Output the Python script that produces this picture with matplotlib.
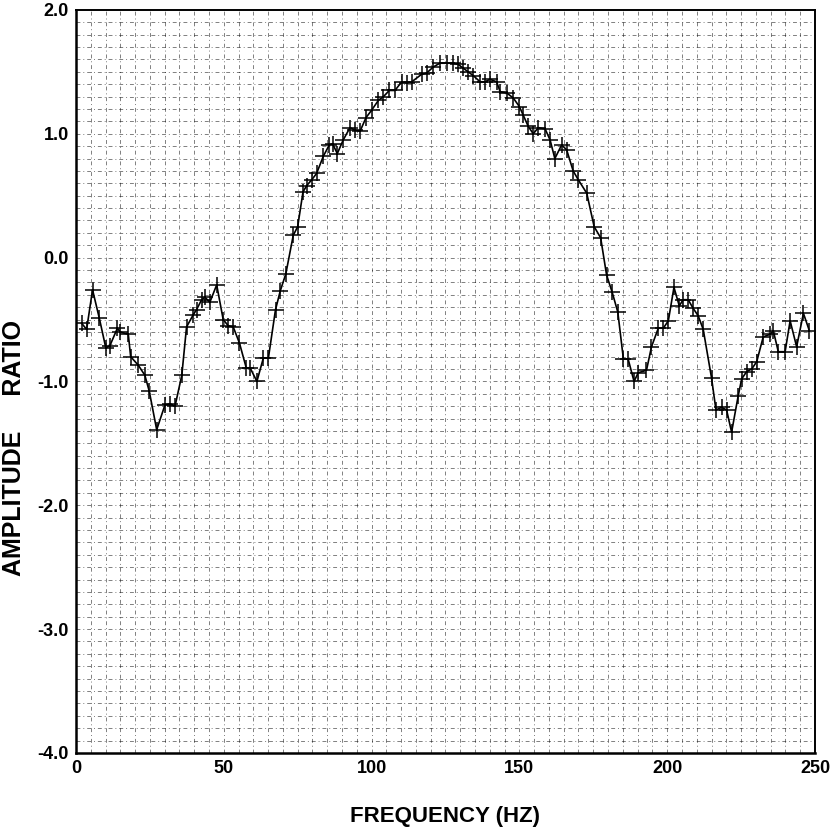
import numpy as np
import matplotlib
matplotlib.use("Agg")
import matplotlib.pyplot as plt

# values
freq = [1.9, 3.6, 5.6, 7.9, 10.1, 11.5, 14.0, 14.9, 17.7, 18.5, 21.1, 23.3, 24.8,
        27.3, 30.1, 31.8, 33.5, 35.8, 37.4, 39.7, 40.8, 42.5, 43.6, 45.3, 47.6,
        49.8, 51.5, 53.2, 55.3, 57.6, 58.9, 61.2, 63.4, 65.1, 67.5, 69.1, 71.0,
        73.5, 75.0, 76.8, 78.0, 79.8, 81.4, 83.7, 85.7, 86.8, 88.4, 90.4, 92.7,
        94.4, 96.1, 98.1, 100.0, 102.3, 104.0, 106.0, 107.9, 110.2, 111.9, 113.6,
        116.9, 118.6, 120.9, 123.1, 125.4, 127.6, 129.3, 131.0, 132.7, 134.4,
        136.7, 138.4, 140.0, 142.3, 143.5, 145.7, 147.9, 150.0, 151.3, 153.0,
        154.7, 156.4, 158.7, 160.4, 162.0, 164.3, 166.0, 168.2, 169.9, 172.8,
        175.3, 177.5, 179.5, 181.4, 183.3, 185.2, 186.8, 188.8, 190.2, 193.0,
        194.7, 197.0, 198.7, 200.4, 202.3, 204.1, 205.4, 207.1, 208.8, 210.5,
        212.2, 215.0, 216.5, 218.4, 220.1, 221.8, 224.0, 225.2, 226.9, 228.6,
        230.3, 232.5, 234.8, 235.9, 237.6, 239.9, 241.6, 243.8, 246.1, 248.1]
amp = [-0.53, -0.58, -0.26, -0.49, -0.73, -0.71, -0.57, -0.60, -0.62, -0.80, -0.87,
       -0.95, -1.08, -1.39, -1.19, -1.18, -1.20, -0.95, -0.56, -0.46, -0.42, -0.34,
       -0.32, -0.36, -0.22, -0.50, -0.55, -0.56, -0.69, -0.89, -0.89, -1.00, -0.81,
       -0.81, -0.42, -0.27, -0.13, 0.18, 0.25, 0.53, 0.58, 0.63, 0.68, 0.82, 0.91,
       0.92, 0.84, 0.95, 1.05, 1.03, 1.02, 1.13, 1.19, 1.27, 1.30, 1.35, 1.35, 1.42,
       1.41, 1.42, 1.48, 1.49, 1.54, 1.57, 1.57, 1.57, 1.56, 1.53, 1.50, 1.47, 1.42,
       1.42, 1.44, 1.42, 1.34, 1.33, 1.29, 1.22, 1.15, 1.06, 1.00, 1.05, 1.04, 0.95,
       0.80, 0.91, 0.87, 0.70, 0.63, 0.52, 0.25, 0.16, -0.14, -0.28, -0.44, -0.82,
       -0.82, -1.00, -0.93, -0.91, -0.72, -0.57, -0.57, -0.51, -0.24, -0.39, -0.34,
       -0.34, -0.41, -0.47, -0.58, -0.97, -1.23, -1.21, -1.23, -1.41, -1.12, -0.98,
       -0.92, -0.90, -0.84, -0.64, -0.62, -0.59, -0.76, -0.76, -0.51, -0.72, -0.45,
       -0.59]

xticks = [0, 50, 100, 150, 200, 250]
yticks = [-4.0, -3.0, -2.0, -1.0, 0.0, 1.0, 2.0]

plt.rcParams['font.family'] = ['Liberation Sans', 'DejaVu Sans']

fig = plt.figure(figsize=(8.35, 8.31), dpi=100)
ax = fig.add_axes([0.091, 0.094, 0.885, 0.894])

# fine graph-paper grid, 5 Hz by 0.1
grid_style = dict(color='black', lw=0.7, ls=(0, (4, 3, 1, 3)), alpha=0.5, zorder=1)
for gx in np.arange(5, 250, 5):
    ax.axvline(gx, **grid_style)
for gy in np.arange(-3.9, 2.0, 0.1):
    ax.axhline(gy, **grid_style)

ax.plot(freq, amp, color='black', lw=1.2, marker='+', ms=11, mew=1.1, zorder=3)

ax.set_xlim(0, 250)
ax.set_ylim(-4.0, 2.0)
ax.set_xticks(xticks)
ax.set_xticklabels([str(t) for t in xticks])
ax.set_yticks(yticks)
ax.set_yticklabels(['%.1f' % t for t in yticks])
ax.tick_params(length=0, labelsize=13, pad=5)
for lab in ax.get_xticklabels() + ax.get_yticklabels():
    lab.set_fontweight('bold')

for side in ['left', 'bottom']:
    ax.spines[side].set_linewidth(1.8)
for side in ['top', 'right']:
    ax.spines[side].set_linewidth(1.4)

ax.set_xlabel('FREQUENCY (HZ)', fontsize=16, fontweight='bold')
ax.set_ylabel('AMPLITUDE     RATIO', fontsize=18, fontweight='bold')
ax.xaxis.set_label_coords(0.5, -0.071)
ax.yaxis.set_label_coords(-0.068, 0.41)

fig.savefig('out.png', dpi=100)
